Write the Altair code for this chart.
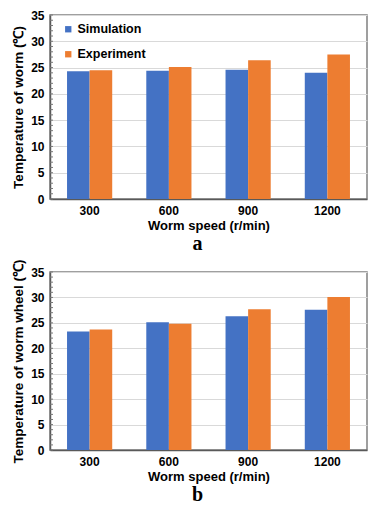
import altair as alt
import pandas as pd

speeds = ["300", "600", "900", "1200"]
series = ["Simulation", "Experiment"]
sim_a = [24.3, 24.4, 24.6, 24.0]
exp_a = [24.5, 25.1, 26.4, 27.5]
sim_b = [23.3, 25.1, 26.3, 27.6]
exp_b = [23.7, 24.8, 27.7, 30.1]
y_ticks = [0, 5, 10, 15, 20, 25, 30, 35]
minor_ticks = list(range(0, 36))
colors = ["#4472C4", "#ED7D31"]

FONT = "Liberation Sans"


def make_df(sim, exp):
    rows = []
    for i, s in enumerate(speeds):
        rows.append({"speed": s, "series": "Simulation", "value": sim[i]})
        rows.append({"speed": s, "series": "Experiment", "value": exp[i]})
    return pd.DataFrame(rows)


def panel(sim, exp, ytitle, letter, h):
    df = make_df(sim, exp)
    yscale = alt.Scale(domain=[0, 35], nice=False)
    yaxis = alt.Axis(title=ytitle, values=y_ticks, grid=True,
                     gridColor="#d9d9d9", ticks=False,
                     domainColor="#595959", domainWidth=1.5,
                     labelFontSize=12, labelPadding=6,
                     titleFontSize=13.5, titlePadding=5)
    mdf = pd.DataFrame({"t": minor_ticks})
    minor = alt.Chart(mdf).mark_rule(color="#777777", strokeWidth=1).encode(
        y=alt.Y("t:Q", scale=yscale, axis=yaxis),
        x=alt.value(0),
        x2=alt.value(3),
    )
    bars = alt.Chart(df).mark_bar().encode(
        x=alt.X("speed:N", sort=speeds,
                scale=alt.Scale(paddingInner=0.43, paddingOuter=0.215),
                axis=alt.Axis(title="Worm speed (r/min)", labelAngle=0,
                              ticks=False, domainColor="#595959", domainWidth=1.5,
                              labelFontSize=12, labelPadding=6,
                              titleFontSize=13, titlePadding=3)),
        xOffset=alt.XOffset("series:N", sort=series),
        y=alt.Y("value:Q", scale=yscale, axis=yaxis),
        color=alt.Color("series:N", sort=series,
                        scale=alt.Scale(domain=series, range=colors),
                        legend=alt.Legend(title=None, orient="none",
                                          legendX=12, legendY=8,
                                          symbolType="square", symbolSize=40,
                                          labelFontSize=12.5, labelFontWeight="bold",
                                          labelFont=FONT, rowPadding=12,
                                          symbolStrokeWidth=0,
                                          labelOffset=3)),
    )
    return alt.layer(minor, bars).properties(
        width=317, height=h,
        title=alt.TitleParams(letter, orient="bottom", font="Liberation Serif",
                              fontSize=20, fontWeight="bold", dx=-11, offset=2),
    )


a = panel(sim_a, exp_a, "Temperature of worm (\u2103)", "a", 184)
b = panel(sim_b, exp_b, "Temperature of worm wheel (\u2103)", "b", 178)

chart = alt.vconcat(a, b, spacing=3).configure(
    font=FONT, padding={"left": 2, "top": 0, "right": 0, "bottom": 0}
).configure_axis(
    labelFont=FONT, titleFont=FONT, labelFontWeight="bold", titleFontWeight="bold",
    labelColor="#000000", titleColor="#000000"
).configure_view(
    stroke="#808080", strokeWidth=1.5
)

chart.save("out.html", embed_options={"renderer": "svg", "actions": False})
